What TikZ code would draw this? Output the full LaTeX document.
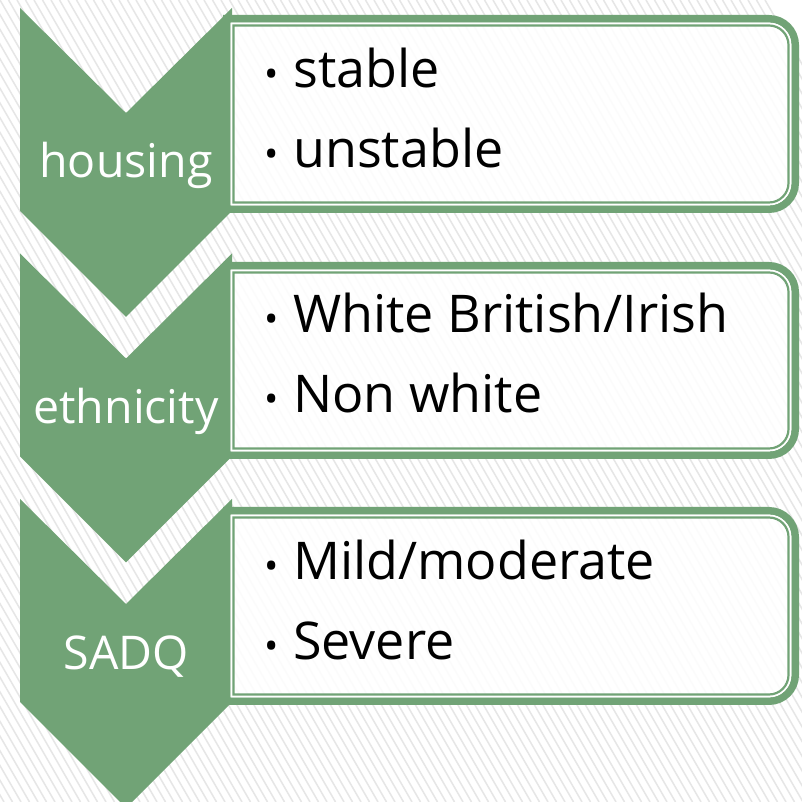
\documentclass[tikz,border=0pt]{standalone}
\usepackage{fontspec}
\setmainfont{Open Sans}
\definecolor{sage}{RGB}{113,163,118}
\definecolor{stripegray}{RGB}{230,230,230}
\newcommand\rr[5]{(#1,#2) -- (#3-#5,#2) arc[start angle=90,end angle=0,radius=#5] -- (#3,#4+#5) arc[start angle=0,end angle=-90,radius=#5] -- (#1,#4) -- cycle}
\newcommand\panel[2]{%
  \fill[white, fill opacity=0.88] \rr{230}{#1-7}{792}{#2+7}{23};
  \draw[sage, line width=7.6pt] \rr{226.8}{#1-3.8}{795.2}{#2+3.8}{26.2};
  \draw[white, line width=1.8pt] \rr{231.5}{#1-8.5}{790.5}{#2+8.5}{21.5};
  \draw[sage, line width=2.2pt] \rr{233.5}{#1-10.5}{788.5}{#2+10.5}{19.5};
}
\newcommand\chevron[1]{%
  \fill[sage] (20,#1) -- (126,#1-105) -- (232,#1) -- (232,#1-203) -- (126,#1-309) -- (20,#1-203) -- cycle;
}
\tikzset{
  itemtext/.style={anchor=base west, inner sep=0pt, font=\fontsize{52}{62}\selectfont, text=black},
  chevtext/.style={anchor=base, inner sep=0pt, font=\fontsize{46.5}{55}\selectfont, text=white}
}
\newcommand\bul{\makebox[29pt][l]{\fontsize{38}{38}\selectfont•}}
\begin{document}
\begin{tikzpicture}[x=1pt,y=1pt]
\useasboundingbox (0,0) rectangle (802,802);
\begin{scope}
\clip (0,0) rectangle (802,802);
\fill[white] (0,0) rectangle (802,802);
\foreach \i in {-60,...,90} \draw[stripegray, line width=1.5pt] (\i*8.5,802) -- (\i*8.5+463,0);
\chevron{794}
\chevron{548.5}
\chevron{303}
\panel{787}{589}
\panel{540}{343}
\panel{295}{97}
\end{scope}
\node[chevtext] (c1) at (126,624) {housing};
\node[chevtext] (c2) at (126,378) {ethnicity};
\node[chevtext] (c3) at (126,132) {SADQ};
\node[itemtext] (a1) at (264,714) {\bul stable};
\node[itemtext] (a2) at (264,634) {\bul unstable};
\node[itemtext] (b1) at (264,469) {\bul White British/Irish};
\node[itemtext] (b2) at (264,389) {\bul Non white};
\node[itemtext] (d1) at (264,222) {\bul Mild/moderate};
\node[itemtext] (d2) at (264,142) {\bul Severe};
\end{tikzpicture}
\end{document}
